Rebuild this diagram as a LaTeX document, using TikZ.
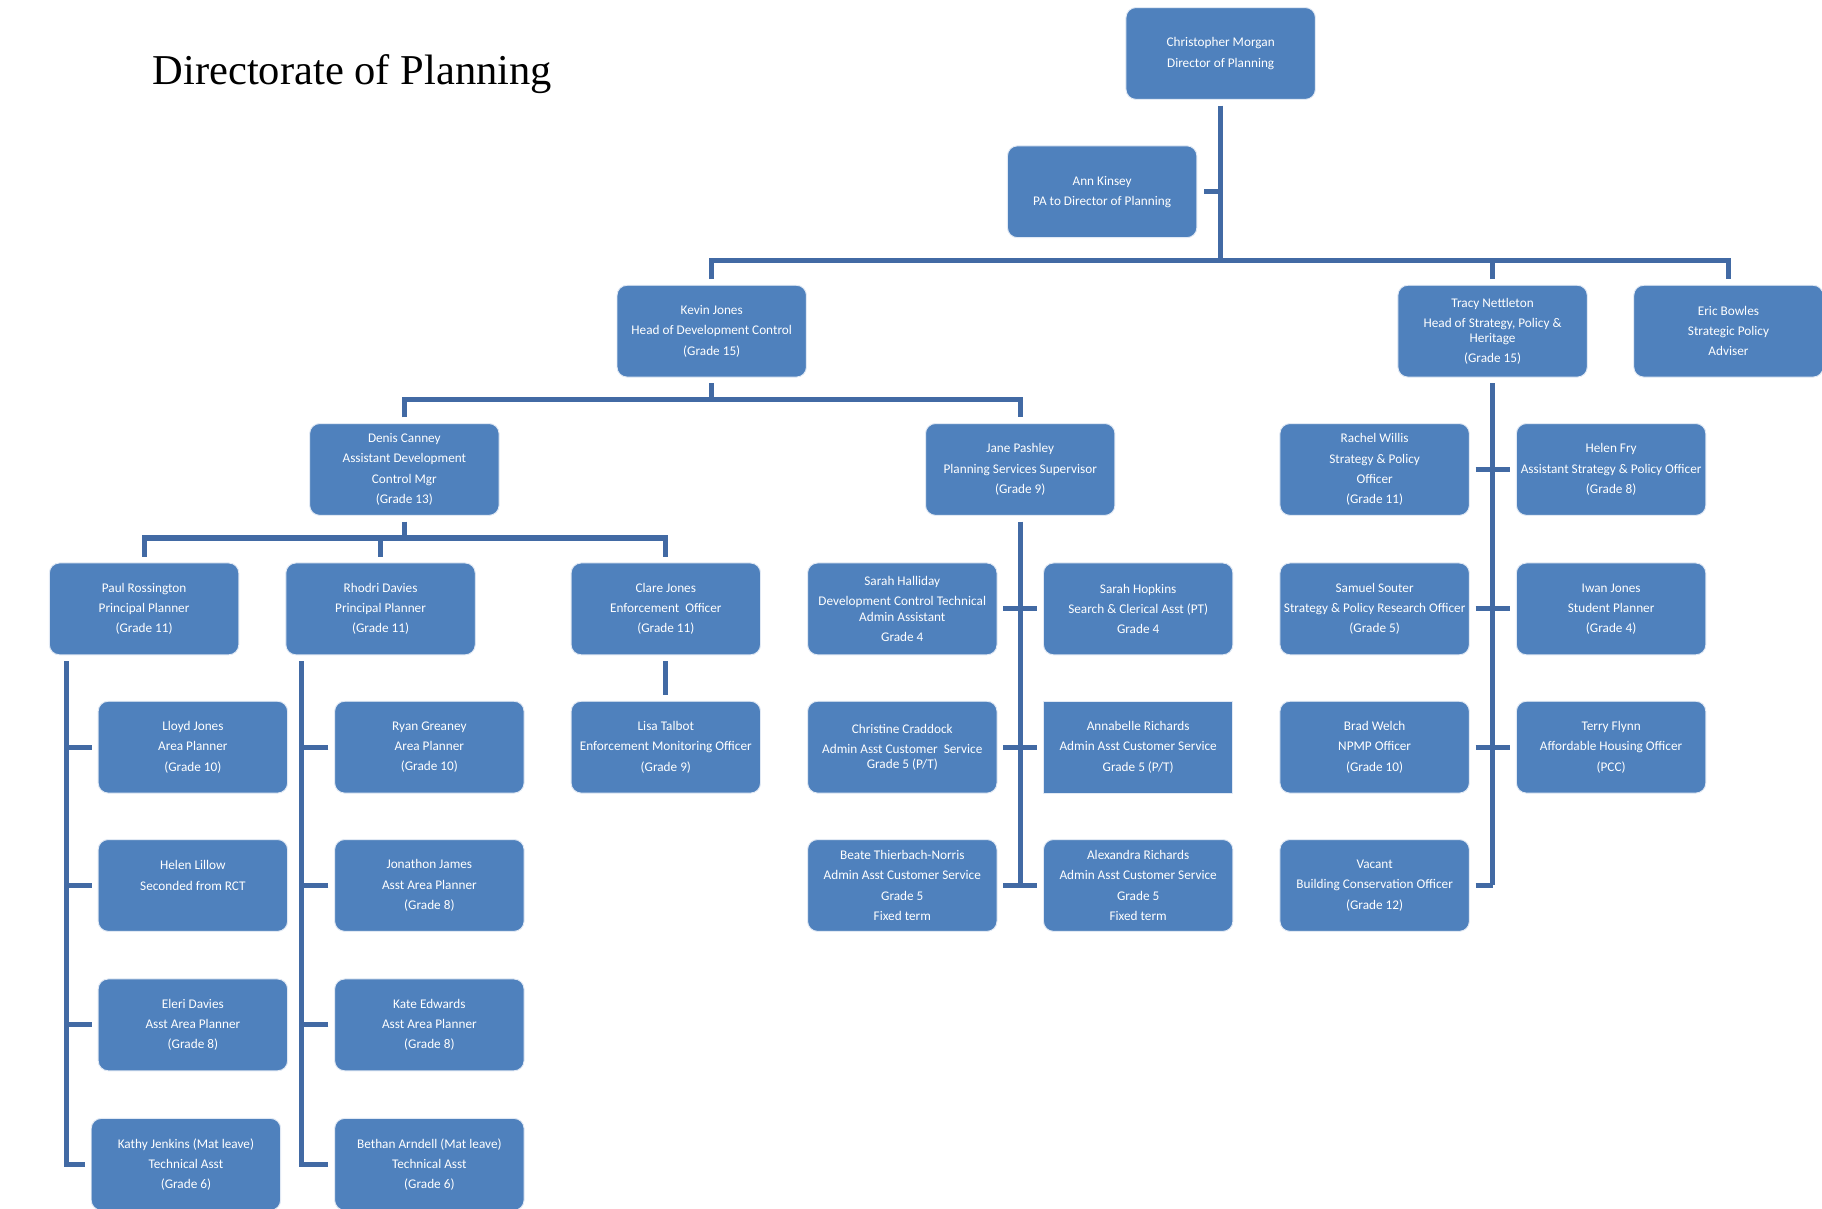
\documentclass[tikz,border=0pt]{standalone}
\usepackage{fontspec}
\newfontfamily\boxfont{Carlito}
\newfontfamily\titlefont{Liberation Serif}
\definecolor{boxblue}{HTML}{4F81BD}
\definecolor{boxedge}{RGB}{225,233,244}
\definecolor{linecol}{RGB}{66,106,164}
\newcommand{\parbrk}{\\[2.2pt]}
\begin{document}
\begin{tikzpicture}[x=0.5pt,y=-0.5pt,
  box/.style={rounded corners=4.3pt, fill=boxblue, draw=boxedge, line width=0.4pt,
    minimum width=81.5pt, minimum height=39.5pt, inner sep=0pt, align=center,
    text=white, font=\boxfont\fontsize{5.7}{6.5}\selectfont},
  sqbox/.style={box, sharp corners},
  conn/.style={draw=linecol, line width=2.2pt, line join=miter}]
\useasboundingbox (0,0) rectangle (1568,1040);

\node[anchor=base west, inner sep=0pt, font=\titlefont\fontsize{18.3}{22}\selectfont] (title) at (131,72.8) {Directorate of Planning};

% level 0-1
\node[box] (cm) at (1050.5,46) {Christopher Morgan\parbrk Director of Planning};
\node[box] (ak) at (948.5,165) {Ann Kinsey\parbrk PA to Director of Planning};
\node[box] (kj) at (612.5,285) {Kevin Jones\parbrk Head of Development Control\parbrk (Grade 15)};
\node[box] (tn) at (1284.5,285) {Tracy Nettleton\parbrk Head of Strategy, Policy \&\\ Heritage\parbrk (Grade 15)};
\node[box] (eb) at (1487.5,285) {Eric Bowles\parbrk Strategic Policy\parbrk Adviser};

% development control
\node[box] (dc) at (348,404) {Denis Canney\parbrk Assistant Development\parbrk Control Mgr\parbrk (Grade 13)};
\node[box] (jp) at (878,404) {Jane Pashley\parbrk Planning Services Supervisor\parbrk (Grade 9)};
\node[box] (pr) at (124,524) {Paul Rossington\parbrk Principal Planner\parbrk (Grade 11)};
\node[box] (rd) at (327.5,524) {Rhodri Davies\parbrk Principal Planner\parbrk (Grade 11)};
\node[box] (cj) at (573,524) {Clare Jones\parbrk Enforcement\ \ Officer\parbrk (Grade 11)};

\node[box] (lj) at (166,643) {Lloyd Jones\parbrk Area Planner\parbrk (Grade 10)};
\node[box] (hl) at (166,762) {Helen Lillow\parbrk Seconded from RCT\parbrk ~};
\node[box] (ed) at (166,882) {Eleri Davies\parbrk Asst Area Planner\parbrk (Grade 8)};
\node[box] (kjn) at (160,1002) {Kathy Jenkins (Mat leave)\parbrk Technical Asst\parbrk (Grade 6)};

\node[box] (rg) at (369.5,643) {Ryan Greaney\parbrk Area Planner\parbrk (Grade 10)};
\node[box] (jj) at (369.5,762) {Jonathon James\parbrk Asst Area Planner\parbrk (Grade 8)};
\node[box] (ke) at (369.5,882) {Kate Edwards\parbrk Asst Area Planner\parbrk (Grade 8)};
\node[box] (ba) at (369.5,1002) {Bethan Arndell (Mat leave)\parbrk Technical Asst\parbrk (Grade 6)};

\node[box] (lt) at (573,643) {Lisa Talbot\parbrk Enforcement Monitoring Officer\parbrk (Grade 9)};

\node[box] (sh) at (776.5,524) {Sarah Halliday\parbrk Development Control Technical\\ Admin Assistant\parbrk Grade 4};
\node[box] (cc) at (776.5,643) {Christine Craddock\parbrk Admin Asst Customer\ \ Service\\ Grade 5 (P/T)};
\node[box] (bt) at (776.5,762) {Beate Thierbach-Norris\parbrk Admin Asst Customer Service\parbrk Grade 5\parbrk Fixed term};
\node[box] (sho) at (979.5,524) {Sarah Hopkins\parbrk Search \& Clerical Asst (PT)\parbrk Grade 4};
\node[sqbox] (ar) at (979.5,643) {Annabelle Richards\parbrk Admin Asst Customer Service\parbrk Grade 5 (P/T)};
\node[box] (alr) at (979.5,762) {Alexandra Richards\parbrk Admin Asst Customer Service\parbrk Grade 5\parbrk Fixed term};

% strategy
\node[box] (rw) at (1183,404) {Rachel Willis\parbrk Strategy \& Policy\parbrk Officer\parbrk (Grade 11)};
\node[box] (ss) at (1183,524) {Samuel Souter\parbrk Strategy \& Policy Research Officer\parbrk (Grade 5)};
\node[box] (bw) at (1183,643) {Brad Welch\parbrk NPMP Officer\parbrk (Grade 10)};
\node[box] (vac) at (1183,762) {Vacant\parbrk Building Conservation Officer\parbrk (Grade 12)};
\node[box] (hf) at (1386.5,404) {Helen Fry\parbrk Assistant Strategy \& Policy Officer\parbrk (Grade 8)};
\node[box] (ij) at (1386.5,524) {Iwan Jones\parbrk Student Planner\parbrk (Grade 4)};
\node[box] (tf) at (1386.5,643) {Terry Flynn\parbrk Affordable Housing Officer\parbrk (PCC)};

% connectors: top
\coordinate (b1) at (1050.5,224);
\draw[conn] ([yshift=-2.5pt]cm.south) -- (b1);
\draw[conn] ([xshift=3pt]ak.east) -- (ak.east -| b1);
\draw[conn] ([yshift=2.5pt]kj.north) |- (b1) -| ([yshift=2.5pt]eb.north);
\draw[conn] ([yshift=2.5pt]tn.north) -- (tn.north |- b1);

% Kevin
\coordinate (b2) at (612.5,344);
\draw[conn] ([yshift=-2.5pt]kj.south) -- (b2);
\draw[conn] ([yshift=2.5pt]dc.north) |- (b2) -| ([yshift=2.5pt]jp.north);

% Denis
\coordinate (b3) at (348,463);
\draw[conn] ([yshift=-2.5pt]dc.south) -- (b3);
\draw[conn] ([yshift=2.5pt]pr.north) |- (b3) -| ([yshift=2.5pt]cj.north);
\draw[conn] ([yshift=2.5pt]rd.north) -- (rd.north |- b3);

% Paul
\coordinate (pv) at ([xshift=7.5pt,yshift=-2.5pt]pr.south west);
\draw[conn] (pv) |- ([xshift=-2.5pt]kjn.west);
\foreach \n in {lj,hl,ed} \draw[conn] ([xshift=-2.5pt]\n.west) -- (\n.west -| pv);

% Rhodri
\coordinate (rv) at ([xshift=7pt,yshift=-2.5pt]rd.south west);
\draw[conn] (rv) |- ([xshift=-2.5pt]ba.west);
\foreach \n in {rg,jj,ke} \draw[conn] ([xshift=-2.5pt]\n.west) -- (\n.west -| rv);

% Clare
\draw[conn] ([yshift=-2.5pt]cj.south) -- ([yshift=2.5pt]lt.north);

% Jane
\draw[conn] ([yshift=-2.5pt]jp.south) -- (jp.south |- bt.east);
\draw[conn] ([xshift=2.5pt]sh.east) -- ([xshift=-2.5pt]sho.west);
\draw[conn] ([xshift=2.5pt]cc.east) -- ([xshift=-2.5pt]ar.west);
\draw[conn] ([xshift=2.5pt]bt.east) -- ([xshift=-2.5pt]alr.west);

% Tracy
\draw[conn] ([yshift=-2.5pt]tn.south) -- (tn.south |- vac.east);
\draw[conn] ([xshift=2.5pt]rw.east) -- ([xshift=-2.5pt]hf.west);
\draw[conn] ([xshift=2.5pt]ss.east) -- ([xshift=-2.5pt]ij.west);
\draw[conn] ([xshift=2.5pt]bw.east) -- ([xshift=-2.5pt]tf.west);
\draw[conn] ([xshift=2.5pt]vac.east) -- (vac.east -| tn.south);
\end{tikzpicture}
\end{document}
